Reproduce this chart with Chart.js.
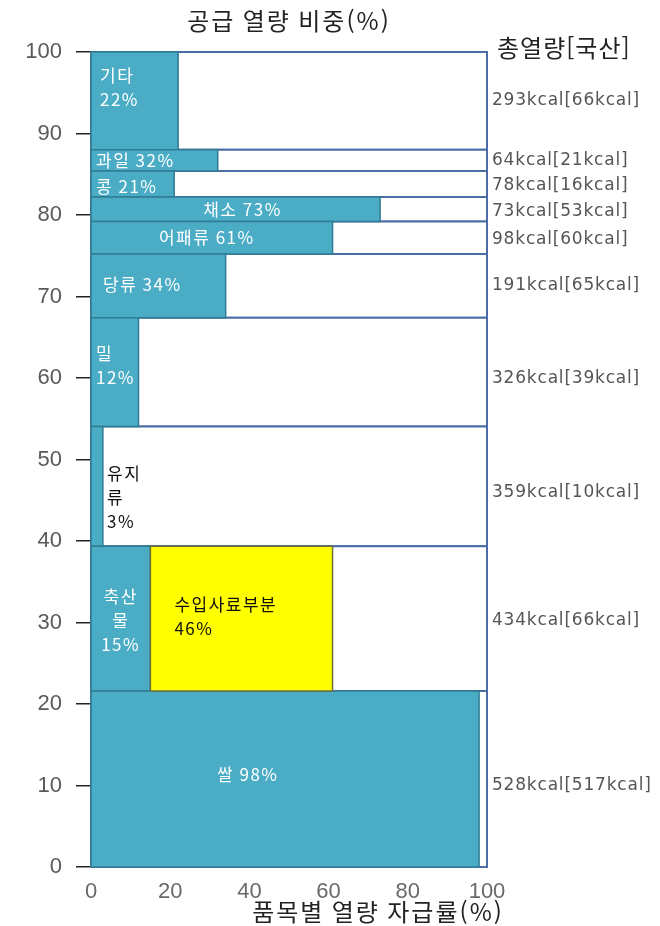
<!DOCTYPE html>
<html lang="ko">
<head>
<meta charset="utf-8">
<title>공급 열량 비중과 품목별 열량 자급률</title>
<script src="https://cdn.jsdelivr.net/npm/chart.js@4.4.1/dist/chart.umd.min.js"></script>
<style>
  html, body { margin: 0; padding: 0; background: #fff; }
  #wrap { position: relative; width: 660px; height: 926px; }
</style>
</head>
<body>
<div id="wrap"><canvas id="chart"></canvas></div>
<script>
// items, stacked from the bottom up
const items = ['쌀', '축산물', '유지류', '밀', '당류', '어패류', '채소', '콩', '과일', '기타'];
// supply per person per day (kcal)
const kcalTotal = [528, 434, 359, 326, 191, 98, 73, 78, 64, 293];
// of which domestic (kcal)
const kcalDomestic = [517, 66, 10, 39, 65, 60, 53, 16, 21, 66];
// calorie self-sufficiency by item (%)
const selfRate = [98, 15, 3, 12, 34, 61, 73, 21, 32, 22];
// livestock: part produced from imported feed (%)
const importFeed = [0, 46, 0, 0, 0, 0, 0, 0, 0, 0];
const importFeedLabel = '수입사료부분';

const xTicks = [0, 20, 40, 60, 80, 100];
const yTicks = [0, 10, 20, 30, 40, 50, 60, 70, 80, 90, 100];

// band thickness = share of total supply
const total = kcalTotal.reduce((a, b) => a + b, 0);
const share = kcalTotal.map(v => v / total * 100);
const bottoms = share.map((s, i) => share.slice(0, i).reduce((a, b) => a + b, 0));

// text layout inside the bands (split = where the name breaks, ownLine = rate on its own line)
const labelLayout = [
  { split: 0, ownLine: false, anchor: 'left', dx: 126, dy: -4, color: '#fff' },  // 쌀
  { split: 2, ownLine: true, anchor: 'fill', dx: 0, dy: 2, color: '#fff' },      // 축산물
  { split: 2, ownLine: true, anchor: 'left', dx: 16, dy: 11, color: '#111' },    // 유지류
  { split: 0, ownLine: true, anchor: 'left', dx: 5, dy: -7, color: '#fff' },     // 밀
  { split: 0, ownLine: false, anchor: 'left', dx: 12, dy: -1, color: '#fff' },   // 당류
  { split: 0, ownLine: false, anchor: 'fill', dx: -5, dy: 0, color: '#fff' },    // 어패류
  { split: 0, ownLine: false, anchor: 'fill', dx: 7, dy: 0, color: '#fff' },     // 채소
  { split: 0, ownLine: false, anchor: 'left', dx: 5, dy: 2, color: '#fff' },     // 콩
  { split: 0, ownLine: false, anchor: 'left', dx: 5, dy: 0, color: '#fff' },     // 과일
  { split: 0, ownLine: true, anchor: 'left', dx: 9, dy: -13, color: '#fff' }     // 기타
];
const kcalDy = [7, 2, 6, 6, 0, 2, 2, 2, 0, 0];

const BLUE = '#4bacc6';
const KR = '"Noto Sans CJK KR", "Noto Sans", sans-serif';

const rect = (x0, x1, y0, y1) => [
  { x: x0, y: y0 }, { x: x1, y: y0 }, { x: x1, y: y1 }, { x: x0, y: y1 }, { x: x0, y: y0 }
];

const datasets = [];
items.forEach((name, i) => {
  const b = bottoms[i], t = b + share[i];
  datasets.push({
    label: name, data: rect(0, 100, b, t), order: 3,
    backgroundColor: '#fff', borderColor: '#4a6da6', borderWidth: 2
  });
  datasets.push({
    label: name + ' 자급', data: rect(0, selfRate[i], b, t), order: 2,
    backgroundColor: BLUE, borderColor: '#2f7c94', borderWidth: 1.5
  });
  if (importFeed[i] > 0) {
    datasets.push({
      label: importFeedLabel, data: rect(selfRate[i], selfRate[i] + importFeed[i], b, t), order: 1,
      backgroundColor: '#ffff00', borderColor: '#6f6f3a', borderWidth: 1.5
    });
  }
});
datasets.forEach(d => Object.assign(d, {
  showLine: true, fill: 'shape', pointRadius: 0, pointHoverRadius: 0, tension: 0, clip: false
}));

function drawLines(ctx, lines, x, yc, lh) {
  const y0 = yc - (lines.length - 1) * lh / 2;
  lines.forEach((s, k) => ctx.fillText(s, x, y0 + k * lh));
}

const textPlugin = {
  id: 'bandText',
  afterDatasetsDraw(chart) {
    const { ctx, chartArea, scales: { x, y } } = chart;
    ctx.save();
    ctx.textBaseline = 'middle';

    // labels inside the bands
    ctx.font = '17px ' + KR;
    ctx.letterSpacing = '1.5px';
    items.forEach((name, i) => {
      const L = labelLayout[i];
      const rate = selfRate[i] + '%';
      let parts = L.split ? [name.slice(0, L.split), name.slice(L.split)] : [name];
      if (L.ownLine) parts.push(rate);
      else parts[parts.length - 1] += ' ' + rate;
      const yc = y.getPixelForValue(bottoms[i] + share[i] / 2) + L.dy;
      ctx.fillStyle = L.color;
      if (L.anchor === 'fill') {
        ctx.textAlign = 'center';
        drawLines(ctx, parts, x.getPixelForValue(selfRate[i] / 2) + L.dx, yc, 24);
      } else {
        ctx.textAlign = 'left';
        drawLines(ctx, parts, x.getPixelForValue(0) + L.dx, yc, 24);
      }
      if (importFeed[i] > 0) {
        ctx.fillStyle = '#111';
        ctx.textAlign = 'left';
        drawLines(ctx, [importFeedLabel, importFeed[i] + '%'],
          x.getPixelForValue(selfRate[i]) + 24, yc - 4, 24);
      }
    });

    // kcal totals on the right
    ctx.font = '17px "DejaVu Sans", sans-serif';
    ctx.letterSpacing = '0.8px';
    ctx.fillStyle = '#555';
    ctx.textAlign = 'left';
    items.forEach((name, i) => {
      const yc = y.getPixelForValue(bottoms[i] + share[i] / 2) + kcalDy[i];
      ctx.fillText(kcalTotal[i] + 'kcal[' + kcalDomestic[i] + 'kcal]', chartArea.right + 5, yc);
    });

    // titles
    ctx.fillStyle = '#222';
    ctx.font = '24px ' + KR;
    ctx.letterSpacing = '2px';
    ctx.textAlign = 'center';
    ctx.fillText('공급 열량 비중(%)', (chartArea.left + chartArea.right) / 2, 21);
    ctx.fillText('품목별 열량 자급률(%)', chartArea.left + 287, 912);
    ctx.letterSpacing = '1px';
    ctx.textAlign = 'left';
    ctx.fillText('총열량[국산]', chartArea.right + 10, 48);
    ctx.restore();
  }
};

new Chart(document.getElementById('chart'), {
  type: 'scatter',
  data: { datasets },
  plugins: [textPlugin],
  options: {
    responsive: true,
    maintainAspectRatio: false,
    animation: false,
    layout: { padding: { left: 0, right: 173, top: 52, bottom: 0 } },
    plugins: { legend: { display: false }, tooltip: { enabled: false }, title: { display: false } },
    scales: {
      x: {
        type: 'linear', min: 0, max: 100,
        afterBuildTicks: s => { s.ticks = xTicks.map(v => ({ value: v })); },
        afterFit: s => { s.height = 59; },
        grid: { display: false, drawTicks: false },
        border: { display: false },
        ticks: { color: '#6a6a6a', padding: 12, font: { family: '"Liberation Sans", Arial, sans-serif', size: 22 } }
      },
      y: {
        type: 'linear', min: 0, max: 100,
        afterBuildTicks: s => { s.ticks = yTicks.map(v => ({ value: v })); },
        afterFit: s => { s.width = 91; },
        grid: { display: true, drawOnChartArea: false, drawTicks: true, tickLength: 15, color: '#222', lineWidth: 1.5 },
        border: { display: false },
        ticks: { color: '#5a5a5a', padding: 14, font: { family: '"Liberation Sans", Arial, sans-serif', size: 22 } }
      }
    }
  }
});
</script>
</body>
</html>
